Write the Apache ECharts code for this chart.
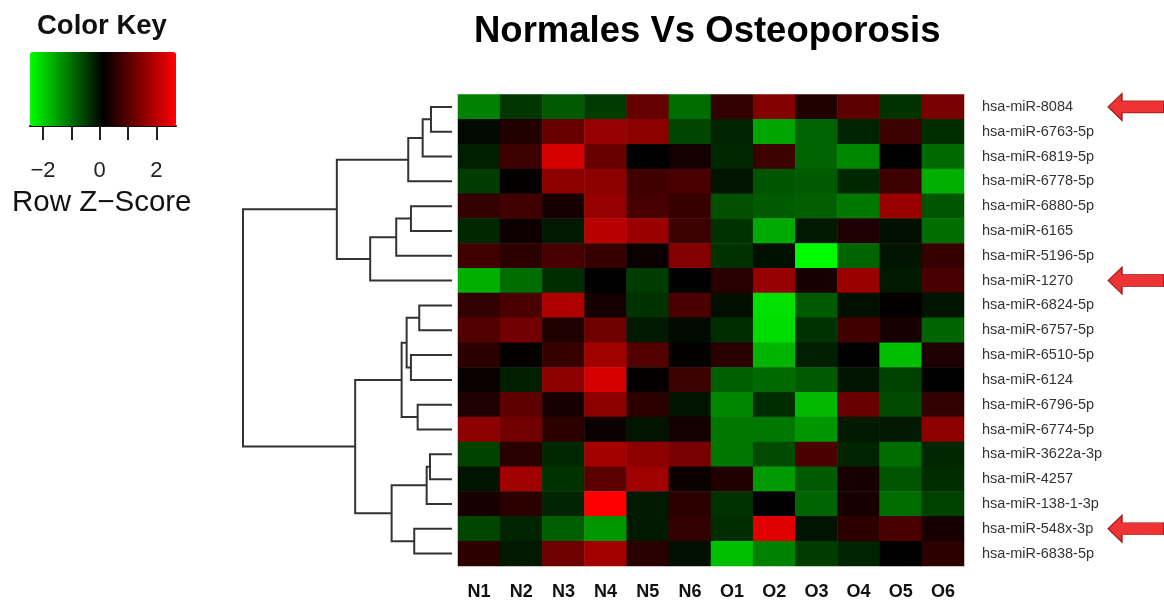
<!DOCTYPE html>
<html>
<head>
<meta charset="utf-8">
<title>Normales Vs Osteoporosis</title>
<script src="https://cdn.jsdelivr.net/npm/echarts@6/dist/echarts.min.js"></script>
<style>
  html, body { margin: 0; background: #fff; }
  #chart { width: 1164px; height: 601px; }
</style>
</head>
<body>
<div id="chart"></div>
<script>
// columns and rows of the heatmap
const samples = ['N1', 'N2', 'N3', 'N4', 'N5', 'N6', 'O1', 'O2', 'O3', 'O4', 'O5', 'O6']
const mirnas = [
  'hsa-miR-8084', 'hsa-miR-6763-5p', 'hsa-miR-6819-5p', 'hsa-miR-6778-5p',
  'hsa-miR-6880-5p', 'hsa-miR-6165', 'hsa-miR-5196-5p', 'hsa-miR-1270',
  'hsa-miR-6824-5p', 'hsa-miR-6757-5p', 'hsa-miR-6510-5p', 'hsa-miR-6124',
  'hsa-miR-6796-5p', 'hsa-miR-6774-5p', 'hsa-miR-3622a-3p', 'hsa-miR-4257',
  'hsa-miR-138-1-3p', 'hsa-miR-548x-3p', 'hsa-miR-6838-5p'
]

// row z-scores (N1..N6, O1..O6)
const z8084 = [-1.20, -0.44, -0.79, -0.49, 1.13, -0.99, 0.62, 1.43, 0.47, 1.02, -0.39, 1.33]
const z6763 = [0.01, 0.47, 1.18, 1.63, 1.53, -0.59, -0.24, -1.55, -0.90, -0.24, 0.72, -0.34]
const z6819 = [-0.19, 0.72, 2.24, 1.18, 0.12, 0.32, -0.29, 0.72, -0.90, -1.25, 0.12, -0.95]
const z6778 = [-0.49, 0.17, 1.53, 1.53, 0.77, 0.87, -0.09, -0.74, -0.79, -0.29, 0.72, -1.65]
const z6880 = [0.62, 0.77, 0.37, 1.63, 0.82, 0.67, -0.69, -0.79, -0.84, -1.10, 1.68, -0.74]
const z6165 = [-0.29, 0.27, -0.14, 1.98, 1.68, 0.72, -0.39, -1.60, -0.14, 0.42, -0.04, -0.99]
const z5196 = [0.77, 0.57, 0.82, 0.67, 0.22, 1.43, -0.39, -0.04, -2.41, -0.90, -0.09, 0.67]
const z1270 = [-1.65, -0.99, -0.34, 0.12, -0.49, 0.12, 0.52, 1.63, 0.37, 1.68, -0.14, 0.82]
const z6824 = [0.62, 0.87, 1.88, 0.32, -0.39, 0.87, -0.04, -2.16, -0.79, -0.04, 0.17, -0.09]
const z6757 = [0.92, 1.28, 0.42, 1.23, -0.14, 0.01, -0.34, -2.11, -0.39, 0.77, 0.37, -0.90]
const z6510 = [0.57, 0.17, 0.67, 1.73, 0.97, 0.15, 0.52, -1.70, -0.19, 0.12, -1.80, 0.42]
const z6124 = [0.22, -0.19, 1.53, 2.29, 0.17, 0.72, -0.84, -0.95, -0.79, -0.09, -0.54, 0.12]
const z6796 = [0.42, 1.07, 0.37, 1.53, 0.57, -0.09, -1.25, -0.34, -1.75, 1.18, -0.64, 0.62]
const z6774 = [1.53, 1.28, 0.57, 0.22, -0.09, 0.32, -1.10, -1.10, -1.40, -0.14, -0.14, 1.53]
const z3622a = [-0.54, 0.52, -0.29, 1.78, 1.53, 1.33, -1.10, -0.64, 0.87, -0.24, -0.99, -0.29]
const z4257 = [-0.09, 1.73, -0.39, 1.02, 1.73, 0.22, 0.47, -1.45, -0.79, 0.37, -0.74, -0.34]
const z138 = [0.37, 0.57, -0.24, 2.69, -0.14, 0.57, -0.39, 0.12, -0.90, 0.37, -0.99, -0.54]
const z548x = [-0.59, -0.24, -0.84, -1.40, -0.14, 0.62, -0.34, 2.39, -0.09, 0.57, 0.87, 0.37]
const z6838 = [0.57, -0.14, 1.23, 1.78, 0.52, -0.04, -1.80, -1.20, -0.49, -0.24, 0.12, 0.57]

const zRows = [z8084, z6763, z6819, z6778, z6880, z6165, z5196, z1270, z6824, z6757,
  z6510, z6124, z6796, z6774, z3622a, z4257, z138, z548x, z6838]

// row dendrogram, hclust style: negative = leaf (row number), positive = earlier merge
const merges = [
  [-1, -2], [1, -3], [2, -4], [-5, -6], [4, -7], [5, -8], [3, 6],
  [-9, -10], [-11, -12], [8, 9], [-13, -14], [10, 11],
  [-15, -16], [13, -17], [-18, -19], [14, 15], [12, 16], [7, 17]
]
const mergeHeights = [21, 29.3, 43.7, 41, 55.7, 81.7, 115, 32.7, 41, 45.3, 34.3, 50.3,
  22, 25.3, 37.7, 60.3, 96.7, 208.7]

// rows marked with a red arrow
const flagged = ['hsa-miR-8084', 'hsa-miR-1270', 'hsa-miR-548x-3p']

// colour key
const keyMin = -2.46
const keyMax = 2.69
const keyTicks = [-2, -1, 0, 1, 2]
const keyLabels = [-2, 0, 2]

const FONT = 'Liberation Sans, Arial, sans-serif'

const heatData = []
zRows.forEach((row, r) => {
  row.forEach((v, c) => heatData.push([c, r, v]))
})

// turn the merge table into U-shaped links
const nodeY = []
function nodePos(ref) {
  return ref < 0 ? { y: -ref - 1, h: 0 } : { y: nodeY[ref - 1], h: mergeHeights[ref - 1] }
}
const dendroData = merges.map((m, i) => {
  const a = nodePos(m[0])
  const b = nodePos(m[1])
  nodeY[i] = (a.y + b.y) / 2
  return [mergeHeights[i], a.y, b.y, a.h, b.h]
})

const plotTop = 94.5
const plotHeight = 471.5

const chart = echarts.init(document.getElementById('chart'))

const option = {
  backgroundColor: '#fff',
  animation: false,
  title: [{
    text: 'Normales Vs Osteoporosis',
    left: 474,
    top: 13,
    padding: 0,
    textStyle: { fontFamily: FONT, fontSize: 36.5, fontWeight: 'bold', color: '#000' }
  }, {
    text: 'Color Key',
    left: 37,
    top: 12,
    padding: 0,
    textStyle: { fontFamily: FONT, fontSize: 27.5, fontWeight: 'bold', color: '#111' }
  }, {
    text: 'Row Z\u2212Score',
    left: 12,
    top: 188,
    padding: 0,
    textStyle: { fontFamily: FONT, fontSize: 29.5, fontWeight: 'normal', color: '#111' }
  }],
  visualMap: {
    type: 'continuous',
    seriesIndex: 0,
    min: keyMin,
    max: keyMax,
    orient: 'horizontal',
    left: 30,
    top: 52,
    padding: 0,
    itemWidth: 74,
    itemHeight: 146,
    calculable: false,
    hoverLink: false,
    text: null,
    showLabel: false,
    inRange: { color: ['#00ff00', '#000000', '#ff0000'] }
  },
  grid: [{
    left: 458, top: plotTop, width: 506, height: plotHeight
  }, {
    left: 243, top: plotTop, width: 209, height: plotHeight
  }, {
    left: 1108, top: plotTop, width: 56, height: plotHeight
  }, {
    left: 30, top: 125, width: 146, height: 1
  }],
  xAxis: [{
    gridIndex: 0,
    type: 'category',
    data: samples,
    axisLine: { show: false },
    axisTick: { show: false },
    splitArea: { show: false },
    axisLabel: { fontFamily: FONT, fontSize: 18, fontWeight: 'bold', color: '#111', margin: 17 }
  }, {
    gridIndex: 1,
    type: 'value',
    min: 0,
    max: 208.7,
    inverse: true,
    show: false
  }, {
    gridIndex: 2,
    type: 'value',
    min: 0,
    max: 1,
    show: false
  }, {
    gridIndex: 3,
    type: 'value',
    min: keyMin,
    max: keyMax,
    axisLine: { show: true, lineStyle: { color: '#111', width: 2 } },
    axisTick: { show: true, customValues: keyTicks, length: 14, lineStyle: { color: '#222', width: 2 } },
    axisLabel: {
      customValues: keyLabels,
      margin: 34,
      fontFamily: FONT,
      fontSize: 22,
      color: '#222',
      formatter: v => String(v).replace('-', '\u2212')
    },
    splitLine: { show: false }
  }],
  yAxis: [{
    gridIndex: 0,
    type: 'category',
    data: mirnas,
    inverse: true,
    position: 'right',
    axisLine: { show: false },
    axisTick: { show: false },
    splitArea: { show: false },
    axisLabel: { fontFamily: FONT, fontSize: 14.5, color: '#333', margin: 18 }
  }, {
    gridIndex: 1,
    type: 'value',
    min: -0.5,
    max: 18.5,
    inverse: true,
    show: false
  }, {
    gridIndex: 2,
    type: 'category',
    data: mirnas,
    inverse: true,
    show: false
  }, {
    gridIndex: 3,
    type: 'value',
    show: false
  }],
  series: [{
    type: 'heatmap',
    xAxisIndex: 0,
    yAxisIndex: 0,
    data: heatData,
    itemStyle: { borderWidth: 0 },
    emphasis: { disabled: true }
  }, {
    type: 'custom',
    xAxisIndex: 1,
    yAxisIndex: 1,
    data: dendroData,
    clip: false,
    encode: { x: [0, 3, 4], y: [1, 2] },
    renderItem(params, api) {
      const h = api.value(0)
      const ya = api.value(1)
      const yb = api.value(2)
      const pts = [
        api.coord([api.value(3), ya]),
        api.coord([h, ya]),
        api.coord([h, yb]),
        api.coord([api.value(4), yb])
      ]
      return {
        type: 'polyline',
        shape: { points: pts },
        style: { stroke: '#333', lineWidth: 2, fill: null }
      }
    }
  }, {
    type: 'scatter',
    xAxisIndex: 2,
    yAxisIndex: 2,
    data: flagged.map(name => [0.5, name]),
    symbol: 'path://M0,13.5 L14,0 L14,7.5 L56,7.5 L56,19.5 L14,19.5 L14,27 Z',
    symbolSize: [56, 27],
    itemStyle: { color: '#e80000', borderColor: '#8a0000', borderWidth: 1 },
    emphasis: { disabled: true },
    silent: true
  }]
}

chart.setOption(option)
</script>
</body>
</html>
